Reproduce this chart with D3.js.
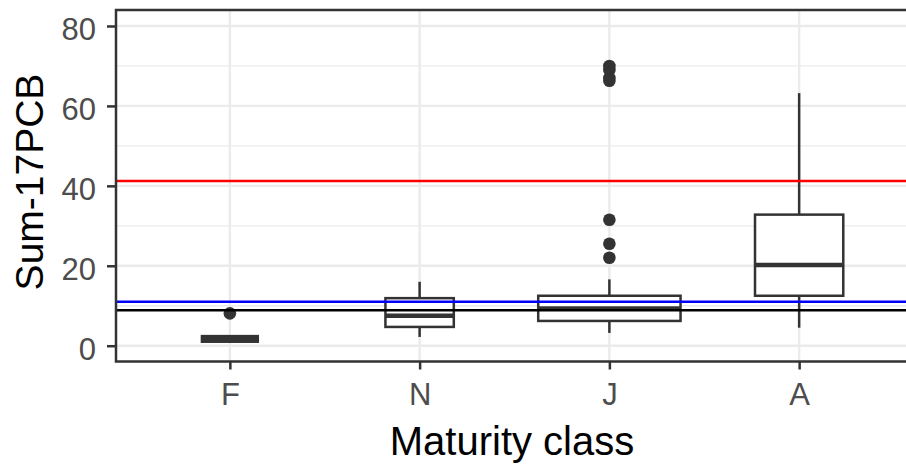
<!DOCTYPE html>
<html>
<head>
<meta charset="utf-8">
<script src="https://cdnjs.cloudflare.com/ajax/libs/d3/7.8.5/d3.min.js"></script>
<style>
  body { margin: 0; background: #fff; }
  text { font-family: Arial, "Liberation Sans", sans-serif; }
</style>
</head>
<body>
<div id="chart"></div>
<script>
// data
var classes = ["F", "N", "J", "A"];
var counts = [6, 9, 39, 15];            // used for varwidth boxes
var whiskerLow = [0.8, 2.2, 3.2, 4.5];
var q1 = [1.0, 4.7, 6.2, 12.5];
var median = [1.7, 7.5, 9.3, 20.2];
var q3 = [2.4, 11.9, 12.5, 32.8];
var whiskerHigh = [2.6, 16.0, 16.6, 63.2];
var outliers = [
    { cls: "F", value: 8.1 },
    { cls: "J", value: 70 },
    { cls: "J", value: 69 },
    { cls: "J", value: 67 },
    { cls: "J", value: 66.3 },
    { cls: "J", value: 31.5 },
    { cls: "J", value: 25.5 },
    { cls: "J", value: 22 }
];
var refLines = [
    { value: 41.2, color: "#FF0000" },
    { value: 11.0, color: "#0000FF" },
    { value: 8.9, color: "#000000" }
];
var yTicks = [0, 20, 40, 60, 80];
var yMinor = [10, 30, 50, 70];

// set the dimensions and margins of the graph
var margin = { top: 10, left: 116 },
    width = 797,
    height = 351.5;

var svg = d3.select("#chart")
    .append("svg")
    .attr("width", 906)
    .attr("height", 464);

var g = svg.append("g")
    .attr("transform", "translate(" + margin.left + "," + margin.top + ")");

var x = d3.scalePoint()
    .domain(classes)
    .range([0, width])
    .padding(0.6);

var y = d3.scaleLinear()
    .domain([-3.95, 84.0])
    .range([height, 0]);

var maxN = d3.max(counts);

// grid
g.selectAll(".minor")
    .data(yMinor)
    .enter()
    .append("line")
    .attr("x1", 0).attr("x2", width)
    .attr("y1", function (d) { return y(d); })
    .attr("y2", function (d) { return y(d); })
    .attr("stroke", "#EBEBEB")
    .attr("stroke-width", 1.3);

g.selectAll(".major")
    .data(yTicks)
    .enter()
    .append("line")
    .attr("x1", 0).attr("x2", width)
    .attr("y1", function (d) { return y(d); })
    .attr("y2", function (d) { return y(d); })
    .attr("stroke", "#EBEBEB")
    .attr("stroke-width", 2.4);

g.selectAll(".vmajor")
    .data(classes)
    .enter()
    .append("line")
    .attr("x1", function (d) { return x(d); })
    .attr("x2", function (d) { return x(d); })
    .attr("y1", 0).attr("y2", height)
    .attr("stroke", "#EBEBEB")
    .attr("stroke-width", 2.4);

// boxes
var boxes = classes.map(function (c, i) {
    return {
        cls: c, n: counts[i], lo: whiskerLow[i], q1: q1[i],
        med: median[i], q3: q3[i], hi: whiskerHigh[i]
    };
});

var box = g.selectAll(".box")
    .data(boxes)
    .enter()
    .append("g")
    .attr("transform", function (d) { return "translate(" + x(d.cls) + ",0)"; });

box.append("line")
    .attr("y1", function (d) { return y(d.hi); })
    .attr("y2", function (d) { return y(d.q3); })
    .attr("stroke", "#333333").attr("stroke-width", 2.5);

box.append("line")
    .attr("y1", function (d) { return y(d.q1); })
    .attr("y2", function (d) { return y(d.lo); })
    .attr("stroke", "#333333").attr("stroke-width", 2.5);

function boxWidth(d) {
    return x.step() * 0.75 * Math.sqrt(d.n / maxN);
}

box.append("rect")
    .attr("x", function (d) { return -boxWidth(d) / 2; })
    .attr("width", boxWidth)
    .attr("y", function (d) { return y(d.q3); })
    .attr("height", function (d) { return y(d.q1) - y(d.q3); })
    .attr("fill", "#fff")
    .attr("stroke", "#333333")
    .attr("stroke-width", 2.5);

box.append("line")
    .attr("x1", function (d) { return -boxWidth(d) / 2; })
    .attr("x2", function (d) { return boxWidth(d) / 2; })
    .attr("y1", function (d) { return y(d.med); })
    .attr("y2", function (d) { return y(d.med); })
    .attr("stroke", "#333333").attr("stroke-width", 4.5);

g.selectAll(".outlier")
    .data(outliers)
    .enter()
    .append("circle")
    .attr("cx", function (d) { return x(d.cls); })
    .attr("cy", function (d) { return y(d.value); })
    .attr("r", 6.3)
    .attr("fill", "#333333");

// reference lines
g.selectAll(".ref")
    .data(refLines)
    .enter()
    .append("line")
    .attr("x1", 0).attr("x2", width)
    .attr("y1", function (d) { return y(d.value); })
    .attr("y2", function (d) { return y(d.value); })
    .attr("stroke", function (d) { return d.color; })
    .attr("stroke-width", 2.5);

// panel border
g.append("rect")
    .attr("width", width)
    .attr("height", height)
    .attr("fill", "none")
    .attr("stroke", "#333333")
    .attr("stroke-width", 2.5);

// axes
var yAxis = g.append("g")
    .call(d3.axisLeft(y).tickValues(yTicks).tickSize(9).tickPadding(11));
var xAxis = g.append("g")
    .attr("transform", "translate(0," + height + ")")
    .call(d3.axisBottom(x).tickSize(8).tickPadding(12));

[yAxis, xAxis].forEach(function (a) {
    a.select(".domain").remove();
    a.selectAll(".tick line").attr("stroke", "#333333").attr("stroke-width", 2.5);
    a.selectAll(".tick text")
        .attr("fill", "#4D4D4D")
        .style("font-size", "31px");
});
yAxis.selectAll(".tick text").attr("dy", "0.45em");
xAxis.selectAll(".tick text").attr("dy", "0.75em");

// axis titles
svg.append("text")
    .attr("x", 512)
    .attr("y", 455)
    .attr("text-anchor", "middle")
    .style("font-size", "40px")
    .attr("fill", "#000")
    .text("Maturity class");

svg.append("text")
    .attr("transform", "translate(43,182) rotate(-90)")
    .attr("text-anchor", "middle")
    .style("font-size", "39px")
    .attr("fill", "#000")
    .text("Sum-17PCB");
</script>
</body>
</html>
